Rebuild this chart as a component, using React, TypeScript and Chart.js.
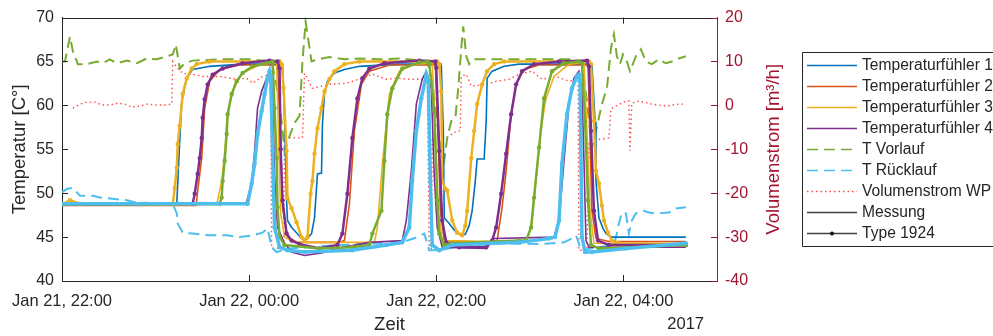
import React, { useEffect, useRef } from 'react';
import { Chart, registerables } from 'chart.js';

Chart.register(...registerables);

type P = [number, number];

// x in minutes after Jan 21, 22:00
const xTickValues = [0, 120, 240, 360];
const xTickLabels = ['Jan 21, 22:00', 'Jan 22, 00:00', 'Jan 22, 02:00', 'Jan 22, 04:00'];
const yLeftTicks = [40, 45, 50, 55, 60, 65, 70];
const yRightTicks = [-40, -30, -20, -10, 0, 10, 20];

const legendLabels = [
  'Temperaturfühler 1', 'Temperaturfühler 2', 'Temperaturfühler 3', 'Temperaturfühler 4',
  'T Vorlauf', 'T Rücklauf', 'Volumenstrom WP', 'Messung', 'Type 1924',
];

// Messung (measurement) – Temperaturfühler 1..4
const t1Messung: P[] = [[0,48.8],[73.6,48.8],[75.5,56.0],[76.8,60.5],[80,63.1],[83.8,64.1],[94.7,64.45],[115.8,64.7],[141.4,64.7],[142.7,58.6],[144,49.2],[144.6,46.9],[147.2,46.1],[150.4,45.5],[153.6,44.85],[156.8,44.75],[160,45.4],[161.9,47.2],[163.8,52.2],[166.4,52.3],[167,57.9],[168.3,61.3],[170.2,62.75],[174.7,63.7],[181.1,64.1],[190.7,64.45],[216.3,64.7],[243.2,64.7],[244.5,57.1],[245.1,47.2],[248.3,46.55],[251.5,45.8],[254.7,45.4],[258.6,45.3],[261.1,46.3],[263,48.0],[265,51.4],[266.2,53.9],[270.7,53.9],[272,58.2],[272.6,63.1],[275.8,63.9],[283.5,64.45],[293.1,64.7],[339.8,64.7],[341.8,58.2],[342.4,51.4],[344.3,47.2],[346.9,46.0],[348.8,45.4],[352.6,45.0],[400,45.0]];
const t2Messung: P[] = [[0,48.6],[86,48.6],[87,50.3],[89.6,54.0],[91.5,59.7],[94.7,62.75],[101.1,64.1],[113.9,64.6],[138.2,64.6],[140.2,56.0],[141.4,48.4],[144.6,45.0],[151,44.4],[177.9,44.4],[181.1,44.6],[184.3,48.8],[187.5,57.1],[192,62.4],[197.1,63.9],[209.9,64.6],[239.4,64.6],[241.3,56.0],[242.6,48.0],[245.1,44.6],[274,44.4],[279,44.6],[282.2,48.4],[284.8,52.55],[288,59.0],[291.2,62.4],[296.3,64.1],[305.9,64.6],[337.3,64.6],[338.6,56.0],[339.8,48.0],[342.4,44.85],[350.7,44.5],[400,44.5]];
const t3Messung: P[] = [[0,48.7],[99,48.7],[99.8,49.2],[102.4,51.4],[104.3,54.5],[105.6,57.9],[107.5,60.15],[110.7,62.4],[115.8,63.7],[124.8,64.45],[131.2,64.8],[137.6,64.9],[138.9,56.0],[140.2,47.7],[142.7,45.0],[149.1,44.4],[200.3,44.4],[202.2,46.1],[205.4,53.35],[209.9,61.3],[216.3,63.9],[226,64.7],[237.4,64.8],[239.4,57.1],[241.3,48.0],[243.8,44.6],[296.3,44.4],[298.2,44.6],[301.4,46.9],[304,51.8],[307.2,57.4],[310.4,60.8],[315.5,63.3],[325.1,64.7],[334.7,64.9],[336.6,57.1],[338.6,48.0],[341.1,44.3],[400,44.1]];
const t4Messung: P[] = [[0,48.7],[118,48.8],[121.6,51.1],[123.5,54.8],[125.4,59.7],[128,61.6],[131.2,63.1],[133.1,63.9],[135,61.6],[136.3,52.2],[138.2,46.1],[142.7,44.3],[147.2,43.3],[155.5,42.9],[166.4,43.2],[176,43.7],[197.1,44.4],[218.2,44.6],[220.8,46.9],[224,52.55],[227.2,60.15],[231,63.0],[233.6,63.9],[236.8,61.95],[238.7,52.0],[240.6,46.1],[243.8,43.85],[272,43.7],[277.1,44.85],[315.5,45.0],[318.7,46.9],[321.9,53.7],[325.1,60.15],[328.3,63.1],[331.5,63.9],[333.4,61.95],[334.7,53.7],[336,44.6],[337.9,43.85],[400,43.85]];

// Type 1924 (model, with markers)
const m1Type: P[] = [[0,48.7],[5.1,49.2],[11.5,48.8],[71,48.7],[72.3,50.6],[73.6,52.9],[74.2,55.6],[75.5,57.7],[77.4,61.3],[80,63.1],[83.2,64.2],[86.4,64.7],[94.7,65.0],[139.5,65.0],[140.8,64.7],[142.1,62.0],[144,54.8],[144.6,49.4],[147.2,48.3],[150.4,46.7],[153.6,45.0],[155.5,44.6],[157.4,45.0],[159.4,49.95],[160.6,51.4],[161.9,54.5],[163.8,57.4],[166.4,59.7],[168.3,61.6],[171.5,63.0],[174.7,63.9],[181.1,64.7],[190.7,65.0],[240.6,65.0],[241.9,64.7],[243.2,61.6],[243.8,51.4],[245.8,50.5],[247,50.3],[250.2,46.9],[253.4,45.5],[256.6,45.2],[258.6,46.3],[259.8,48.0],[262.4,54.0],[264.3,57.1],[266.2,60.15],[269.4,62.4],[272.6,63.9],[277.1,64.7],[283.5,65.0],[337.9,65.0],[339.2,64.7],[341.1,58.2],[342.4,52.55],[344.3,51.1],[346.2,48.6],[347.5,46.9],[350.1,45.5],[352.6,44.6],[357.1,44.3],[400,44.2]];
const m2Type: P[] = [[0,48.7],[83.8,48.8],[85.1,49.95],[87,52.2],[88.3,54.0],[89.6,56.3],[90.2,58.6],[91.5,60.7],[93.4,62.4],[96.6,63.5],[103,64.2],[115.8,64.8],[133.1,65.1],[138.2,65.0],[139.5,64.2],[140.2,55.0],[141.4,49.2],[144,45.4],[147.2,44.6],[152.3,44.2],[165.1,43.7],[176.6,44.1],[179.8,45.4],[183,49.95],[186.2,56.3],[189.4,60.8],[192.6,63.1],[197.1,64.2],[206.7,64.8],[229.1,65.1],[239.4,65.0],[240,64.3],[241.9,54.8],[243.8,46.9],[246.4,44.4],[254.7,43.85],[272,43.85],[275.8,44.6],[278.4,46.1],[281.6,49.95],[284.8,54.5],[288,59.0],[291.2,62.4],[295,63.9],[302.7,64.7],[318.7,65.0],[336.6,65.1],[337.9,64.45],[339.2,57.1],[341.1,48.0],[343.7,44.6],[350.7,44.1],[400,44.1]];
const m3Type: P[] = [[0,48.7],[101.1,48.8],[102.4,49.5],[103,51.4],[104.3,53.7],[105.6,56.75],[106.2,59.0],[108.8,61.3],[112,62.75],[115.8,63.7],[122.2,64.45],[131.2,64.8],[135,65.0],[136.3,59.7],[137.6,54.0],[138.2,48.4],[139.5,45.0],[142.7,44.1],[165.1,43.7],[186.2,43.85],[197.1,44.1],[199,45.4],[204.8,48.0],[206.7,53.7],[208.6,59.0],[211.8,61.95],[218.2,64.2],[229.1,64.9],[234.2,65.0],[235.5,64.8],[238.7,59.35],[240.6,49.2],[241.9,45.4],[245.1,44.1],[250.2,44.3],[293.1,44.6],[297.6,44.6],[300.8,46.1],[302.7,49.5],[305.9,55.2],[309.1,60.8],[314.2,63.9],[321.9,64.8],[331.5,65.0],[333.4,64.8],[335.4,58.2],[337.3,49.2],[339.2,44.1],[344.3,43.7],[400,44.1]];
const m4Type: P[] = [[0,48.8],[119,48.8],[121.6,51.1],[123.5,53.35],[125.4,56.75],[128,59.35],[129.9,61.3],[131.8,63.1],[133.1,63.9],[133.8,63.3],[135,54.8],[136.3,46.1],[139.5,43.85],[144.6,43.5],[155.5,43.3],[186.2,43.5],[208,44.1],[218.2,44.4],[222.7,46.1],[224.6,51.4],[227.2,57.1],[230.4,60.8],[233.6,63.5],[234.9,62.75],[236.2,51.4],[237.4,44.1],[241.9,43.5],[250.2,44.1],[293.1,44.4],[312.3,44.85],[316.1,45.0],[318.7,46.9],[320.6,53.35],[323.8,59.0],[327,61.95],[330.2,63.3],[331.5,63.5],[332.2,62.75],[333.4,45.0],[335.4,43.3],[339.8,43.3],[361.6,43.7],[400,44.3]];

const tVorlauf: P[] = [[0,65.0],[1.9,65.0],[5.1,67.85],[7,66.15],[10.2,64.7],[16,64.7],[22.4,65.0],[26.2,64.8],[30.7,65.25],[35.2,64.8],[41.6,65.1],[48,64.8],[54.4,65.35],[60.8,65.25],[67.2,65.6],[71,65.8],[73,66.95],[75.5,64.2],[78.7,64.8],[83.8,65.1],[101.1,65.25],[120.3,65.25],[134.4,65.0],[139.5,60.5],[142.7,54.8],[145.9,56.5],[149.1,58.0],[152.3,58.8],[154.2,65.0],[156.2,69.55],[158.1,67.3],[160,65.0],[163.8,65.25],[171.5,65.5],[181.1,65.25],[190.7,65.35],[203.5,65.25],[216.3,65.35],[234.2,65.0],[237.4,62.75],[241.9,56.0],[245.1,53.7],[247,56.3],[249.6,58.2],[252.2,58.55],[254.1,61.95],[256,66.5],[257.3,69.0],[259.2,65.6],[261.1,64.7],[263.7,65.25],[280.3,65.25],[305.9,65.25],[328.3,65.25],[333.4,64.8],[336.6,60.5],[339.8,55.2],[342.4,57.1],[346.2,60.15],[349.4,61.95],[352,66.5],[353.9,68.1],[355.8,65.6],[357.8,64.7],[359.7,65.8],[362.2,65.0],[364.2,63.9],[368,65.6],[371.2,66.4],[374.4,65.0],[378.2,64.7],[382.7,65.25],[387.2,64.8],[391,65.0],[395.5,65.35],[400,65.6]];
const tRuecklauf: P[] = [[0,50.1],[3.2,50.5],[7,50.6],[11.5,49.7],[19.8,49.7],[24.3,49.5],[30.7,49.4],[41.6,49.2],[48,48.9],[54.4,48.9],[62.7,48.8],[71,48.8],[73.6,47.7],[74.2,46.55],[77.4,45.5],[83.8,45.4],[94.7,45.2],[105.6,45.2],[113.9,45.0],[122.2,45.2],[128.6,45.5],[131.8,46.0],[134.4,43.85],[137.6,43.3],[145.9,43.7],[165.1,43.95],[190.7,44.2],[216.3,44.3],[227.8,45.0],[232.3,45.4],[235.5,43.5],[241.9,43.5],[254.7,43.95],[280.3,44.3],[305.9,44.2],[321.9,44.4],[327,44.85],[329.6,45.2],[332.8,43.5],[344.3,43.85],[353.9,44.1],[355.8,45.4],[357.1,46.55],[359,47.8],[361.6,47.7],[363.5,45.4],[365.4,46.9],[368,47.7],[373.1,48.0],[376.3,47.8],[380.8,47.7],[389.1,47.8],[393.6,48.25],[400,48.4]];

// Volumenstrom WP [m3/h], right axis
const volumenstrom: P[] = [[7,-0.6],[11.5,0.3],[16,0.75],[21.1,0.75],[25.6,0.1],[30.7,0.1],[35.8,0.5],[40.3,0.3],[44.8,-0.4],[49.9,-0.15],[55,0.3],[59.5,0.1],[65.9,0.1],[70.4,0.3],[71,10.0],[74.2,8.45],[77.4,7.3],[83.8,7.1],[90.2,6.6],[101.1,6.6],[112,5.95],[118.4,6.2],[122.2,5.05],[128.6,6.6],[133.8,7.1],[134.4,-32.5],[142.1,-32.5],[142.7,-7.4],[154.2,-7.4],[155.5,7.3],[160.6,3.9],[171.5,4.8],[182.4,5.05],[192.6,6.2],[199,7.1],[208,5.95],[214.4,6.2],[222.7,5.95],[234.2,5.95],[235.5,-33],[236.8,-33],[237.4,-7.4],[246.4,-7.4],[250.2,-6.5],[253.4,-5.8],[255.4,-5.8],[256,6.6],[259.2,7.1],[262.4,4.4],[272,4.8],[278.4,5.5],[286.7,5.95],[293.1,7.1],[301.4,7.8],[307.8,5.95],[316.8,6.6],[325.1,5.5],[330.9,5.95],[331.5,-33],[336.6,-33],[337.9,-8.1],[350.7,-7.4],[352,-0.8],[355.2,-0.15],[361.6,1.0],[363.5,1.0],[364.2,-10.3],[365.4,0.5],[369.9,1.0],[378.2,0.3],[387.2,-0.15],[395.5,0.3],[400,0.3]];

const FONT = "'Liberation Sans', Arial, Helvetica, sans-serif";
const AXIS = '#262626';
const DARKRED = '#A2142F';
const BLUE = '#0072BD';
const ORANGE = '#D95319';
const YELLOW = '#EDB120';
const PURPLE = '#7E2F8E';
const GREEN = '#77AC30';
const LIGHTBLUE = '#4DBEEE';
const RED = 'rgba(255,30,30,0.8)';
const GRAY = '#404040';

const toXY = (p: P[]) => p.map(([x, y]) => ({ x, y }));

const legendStyles: { color: string; dash: number[]; marker?: boolean }[] = [
  { color: BLUE, dash: [] },
  { color: ORANGE, dash: [] },
  { color: YELLOW, dash: [] },
  { color: PURPLE, dash: [] },
  { color: GREEN, dash: [11, 6] },
  { color: LIGHTBLUE, dash: [11, 6] },
  { color: RED, dash: [1.5, 3] },
  { color: GRAY, dash: [] },
  { color: GRAY, dash: [], marker: true },
];

const decor = {
  id: 'decor',
  afterDraw(chart: any) {
    const { ctx, chartArea: ca, scales } = chart;
    ctx.save();
    ctx.lineWidth = 1;
    // top border
    ctx.strokeStyle = AXIS;
    ctx.beginPath();
    ctx.moveTo(ca.left, Math.round(ca.top) + 0.5);
    ctx.lineTo(ca.right, Math.round(ca.top) + 0.5);
    ctx.stroke();
    // inward ticks
    ctx.beginPath();
    for (const v of yLeftTicks) {
      const y = Math.round(scales.y.getPixelForValue(v)) + 0.5;
      ctx.moveTo(ca.left, y);
      ctx.lineTo(ca.left + 6, y);
    }
    for (const v of xTickValues) {
      const x = Math.round(scales.x.getPixelForValue(v)) + 0.5;
      ctx.moveTo(x, ca.bottom);
      ctx.lineTo(x, ca.bottom - 6);
      ctx.moveTo(x, ca.top);
      ctx.lineTo(x, ca.top + 6);
    }
    ctx.stroke();
    ctx.strokeStyle = DARKRED;
    ctx.beginPath();
    for (const v of yRightTicks) {
      const y = Math.round(scales.y1.getPixelForValue(v)) + 0.5;
      ctx.moveTo(ca.right, y);
      ctx.lineTo(ca.right - 6, y);
    }
    ctx.stroke();

    // axis titles
    ctx.fillStyle = AXIS;
    ctx.font = `18.5px ${FONT}`;
    ctx.textAlign = 'center';
    ctx.textBaseline = 'middle';
    ctx.save();
    ctx.translate(20, (ca.top + ca.bottom) / 2);
    ctx.rotate(-Math.PI / 2);
    ctx.fillText('Temperatur [C°]', 0, 0);
    ctx.restore();
    ctx.save();
    ctx.fillStyle = DARKRED;
    ctx.translate(774, (ca.top + ca.bottom) / 2);
    ctx.rotate(-Math.PI / 2);
    ctx.fillText('Volumenstrom [m³/h]', 0, 0);
    ctx.restore();
    ctx.fillText('Zeit', (ca.left + ca.right) / 2, 325);
    ctx.font = `16.5px ${FONT}`;
    ctx.textAlign = 'right';
    ctx.fillText('2017', 704, 324);

    // legend (right edge lies outside the canvas)
    const lx = 802.5, ly = 52.5, lb = 246.5;
    ctx.fillStyle = '#ffffff';
    ctx.fillRect(lx, ly, 200, lb - ly);
    ctx.strokeStyle = AXIS;
    ctx.beginPath();
    ctx.moveTo(1000, ly);
    ctx.lineTo(lx, ly);
    ctx.lineTo(lx, lb);
    ctx.lineTo(1000, lb);
    ctx.stroke();
    ctx.font = `15.6px ${FONT}`;
    ctx.textAlign = 'left';
    ctx.textBaseline = 'middle';
    legendLabels.forEach((lab, i) => {
      const y = 65 + i * 21.05;
      const st = legendStyles[i];
      ctx.strokeStyle = st.color;
      ctx.lineWidth = 1.6;
      ctx.setLineDash(st.dash);
      ctx.beginPath();
      ctx.moveTo(807, Math.round(y) + 0.5);
      ctx.lineTo(857, Math.round(y) + 0.5);
      ctx.stroke();
      ctx.setLineDash([]);
      if (st.marker) {
        ctx.fillStyle = '#111';
        ctx.beginPath();
        ctx.arc(832, Math.round(y) + 0.5, 2, 0, Math.PI * 2);
        ctx.fill();
      }
      ctx.fillStyle = AXIS;
      ctx.fillText(lab, 862, y + 0.5);
    });
    ctx.restore();
  },
};

export default function App() {
  const ref = useRef<HTMLCanvasElement>(null);
  useEffect(() => {
    const c = ref.current;
    if (!c) return;
    const model = (label: string, data: P[], color: string, width = 2.5) => ({
      label,
      data: toXY(data),
      borderColor: color,
      backgroundColor: color,
      borderWidth: width,
      pointRadius: 2.2,
      pointBackgroundColor: color,
      pointBorderWidth: 0,
      pointHoverRadius: 0,
      yAxisID: 'y',
      tension: 0,
      fill: false,
    });
    const meas = (label: string, data: P[], color: string) => ({
      label,
      data: toXY(data),
      borderColor: color,
      backgroundColor: color,
      borderWidth: 1.6,
      pointRadius: 0,
      yAxisID: 'y',
      tension: 0,
      fill: false,
    });
    const chart = new Chart(c, {
      type: 'line',
      data: {
        datasets: [
          model('Type 1924 4', m4Type, LIGHTBLUE, 3.5),
          model('Type 1924 3', m3Type, GREEN),
          model('Type 1924 2', m2Type, PURPLE),
          model('Type 1924 1', m1Type, YELLOW),
          meas('Temperaturfühler 4', t4Messung, PURPLE),
          meas('Temperaturfühler 3', t3Messung, YELLOW),
          meas('Temperaturfühler 2', t2Messung, ORANGE),
          meas('Temperaturfühler 1', t1Messung, BLUE),
          {
            label: 'T Rücklauf', data: toXY(tRuecklauf), borderColor: LIGHTBLUE, borderWidth: 2,
            borderDash: [11, 6], pointRadius: 0, yAxisID: 'y', tension: 0, fill: false,
          },
          {
            label: 'T Vorlauf', data: toXY(tVorlauf), borderColor: GREEN, borderWidth: 2,
            borderDash: [11, 6], pointRadius: 0, yAxisID: 'y', tension: 0, fill: false,
          },
          {
            label: 'Volumenstrom WP', data: toXY(volumenstrom), borderColor: RED, borderWidth: 1.4,
            borderDash: [1.5, 3], pointRadius: 0, yAxisID: 'y1', tension: 0, fill: false,
          },
        ] as any,
      },
      options: {
        responsive: false,
        animation: false,
        events: [],
        layout: { padding: { top: 16, right: 196, left: 0, bottom: 0 } },
        plugins: { legend: { display: false }, tooltip: { enabled: false } },
        scales: {
          x: {
            type: 'linear',
            min: 0,
            max: 420,
            position: 'bottom',
            afterBuildTicks: (s: any) => { s.ticks = xTickValues.map((v) => ({ value: v })); },
            afterFit: (s: any) => { s.height = 55; },
            grid: { display: false, drawTicks: false },
            border: { display: true, color: AXIS, width: 1 },
            ticks: {
              callback: (v: any) => { const i = xTickValues.indexOf(Number(v)); return i >= 0 ? xTickLabels[i] : ''; },
              color: AXIS,
              font: { family: FONT, size: 16.5 },
              padding: 11,
              maxRotation: 0,
              autoSkip: false,
            },
          },
          y: {
            type: 'linear',
            position: 'left',
            min: 40,
            max: 70,
            afterBuildTicks: (s: any) => { s.ticks = yLeftTicks.map((v) => ({ value: v })); },
            afterFit: (s: any) => { s.width = 62; },
            grid: { display: false, drawTicks: false },
            border: { display: true, color: AXIS, width: 1 },
            ticks: { color: AXIS, font: { family: FONT, size: 16 }, padding: 8 },
          },
          y1: {
            type: 'linear',
            position: 'right',
            min: -40,
            max: 20,
            afterBuildTicks: (s: any) => { s.ticks = yRightTicks.map((v) => ({ value: v })); },
            afterFit: (s: any) => { s.width = 80; },
            grid: { display: false, drawTicks: false },
            border: { display: true, color: DARKRED, width: 1 },
            ticks: { color: DARKRED, font: { family: FONT, size: 16 }, padding: 8 },
          },
        },
      } as any,
      plugins: [decor],
    });
    return () => chart.destroy();
  }, []);
  return (
    <div style={{ position: 'absolute', left: 0, top: 0, width: 993, height: 336, background: '#fff', overflow: 'hidden' }}>
      <canvas ref={ref} width={993} height={336} style={{ width: 993, height: 336, display: 'block' }} />
    </div>
  );
}
